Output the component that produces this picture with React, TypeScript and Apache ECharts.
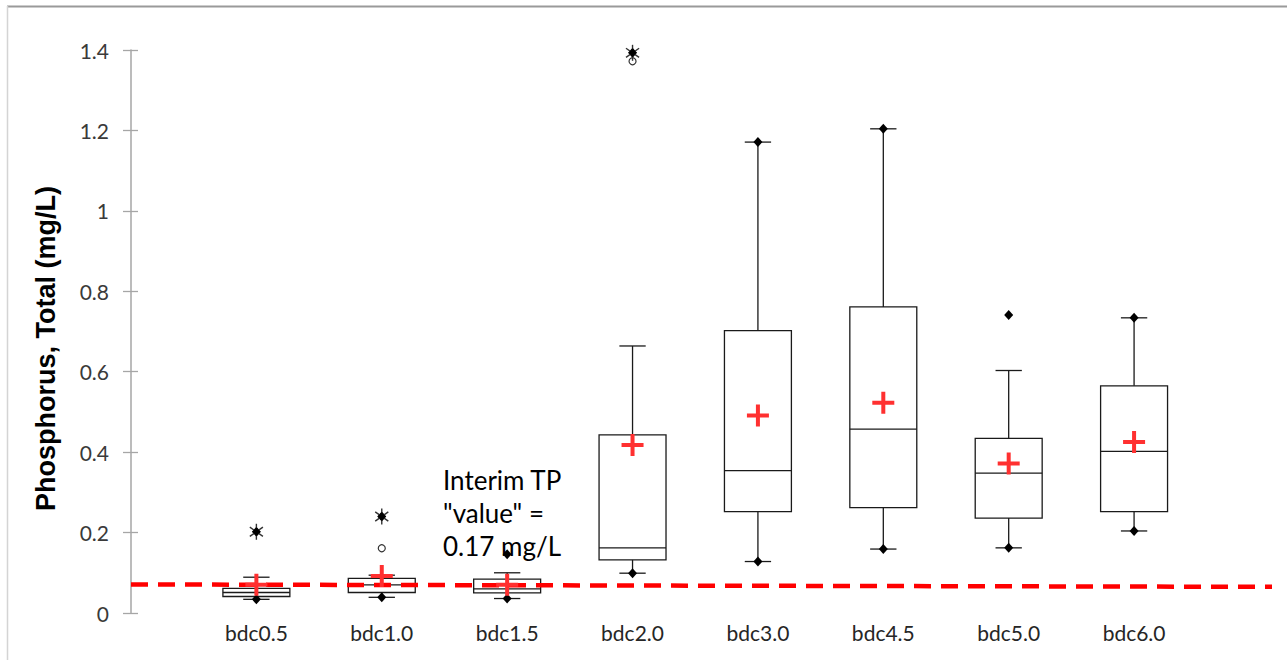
import React, { useEffect, useRef } from "react";
import * as echarts from "echarts";

// ---- data ----
const categories = ["bdc0.5", "bdc1.0", "bdc1.5", "bdc2.0", "bdc3.0", "bdc4.5", "bdc5.0", "bdc6.0"];
const whiskerLow = [0.034, 0.039, 0.036, 0.099, 0.128, 0.159, 0.162, 0.204];
const q1 = [0.041, 0.051, 0.050, 0.132, 0.252, 0.262, 0.236, 0.252];
const median = [0.051, 0.070, 0.060, 0.162, 0.354, 0.457, 0.348, 0.402];
const q3 = [0.061, 0.086, 0.084, 0.443, 0.702, 0.761, 0.434, 0.565];
const whiskerHigh = [0.089, 0.094, 0.100, 0.664, 1.171, 1.204, 0.603, 0.734];
const mean = [0.070, 0.092, 0.070, 0.418, 0.491, 0.523, 0.372, 0.425];
const minimum = [0.034, 0.039, 0.036, 0.099, 0.128, 0.159, 0.162, 0.204];
const maximum = [0.202, 0.240, 0.146, 1.393, 1.171, 1.204, 0.741, 0.734];
const extremeCats = ["bdc0.5", "bdc1.0", "bdc2.0"];
const extremeVals = [0.202, 0.240, 1.393];
const outlierCats = ["bdc1.0", "bdc2.0"];
const outlierVals = [0.161, 1.372];
const thresholdX = [0, 9.1];
const thresholdY = [0.071, 0.065];
const yTicks = { min: 0, max: 1.4, interval: 0.2 };
const annotation = 'Interim TP\n"value" =\n0.17 mg/L';
const yTitle = "Phosphorus, Total (mg/L)";

const pos = (c: string) => categories.indexOf(c) + 1;

const PLUS = "path://M9,0 H13 V9 H22 V13 H13 V22 H9 V13 H0 V9 H9 Z";

export default function App() {
  const ref = useRef<HTMLDivElement>(null);
  useEffect(() => {
    if (!ref.current) return;
    const chart = echarts.init(ref.current, undefined, { renderer: "svg" });

    const boxData = categories.map((c, i) => [i + 1, whiskerLow[i], q1[i], median[i], q3[i], whiskerHigh[i]]);

    const renderBox = (params: any, api: any) => {
      const x = api.value(0);
      const pLow = api.coord([x, api.value(1)]);
      const pQ1 = api.coord([x, api.value(2)]);
      const pMed = api.coord([x, api.value(3)]);
      const pQ3 = api.coord([x, api.value(4)]);
      const pHigh = api.coord([x, api.value(5)]);
      const unit = api.size([1, 0])[0];
      const half = unit * 0.267;
      const cap = unit * 0.105;
      const cx = pQ1[0];
      const st = { stroke: "#1a1a1a", lineWidth: 1.3, fill: "none" };
      return {
        type: "group",
        children: [
          { type: "line", shape: { x1: cx, y1: pHigh[1], x2: cx, y2: pQ3[1] }, style: st },
          { type: "line", shape: { x1: cx, y1: pQ1[1], x2: cx, y2: pLow[1] }, style: st },
          { type: "line", shape: { x1: cx - cap, y1: pHigh[1], x2: cx + cap, y2: pHigh[1] }, style: st },
          { type: "line", shape: { x1: cx - cap, y1: pLow[1], x2: cx + cap, y2: pLow[1] }, style: st },
          { type: "rect", shape: { x: cx - half, y: pQ3[1], width: 2 * half, height: pQ1[1] - pQ3[1] }, style: st },
          { type: "line", shape: { x1: cx - half, y1: pMed[1], x2: cx + half, y2: pMed[1] }, style: st },
        ],
      };
    };

    const renderStar = (params: any, api: any) => {
      const p = api.coord([api.value(0), api.value(1)]);
      const r = 8;
      const st = { stroke: "#333", lineWidth: 1.4 };
      const arms = [90, 35, 145].map((deg) => {
        const a = (deg * Math.PI) / 180;
        const dx = Math.cos(a) * r;
        const dy = Math.sin(a) * r;
        return { type: "line", shape: { x1: p[0] - dx, y1: p[1] - dy, x2: p[0] + dx, y2: p[1] + dy }, style: st };
      });
      return {
        type: "group",
        children: [
          ...arms,
          { type: "polygon", shape: { points: [[p[0], p[1] - 4.5], [p[0] + 4, p[1]], [p[0], p[1] + 4.5], [p[0] - 4, p[1]]] }, style: { fill: "#000" } },
        ],
      };
    };

    const option: any = {
      animation: false,
      backgroundColor: "#fff",
      grid: { left: 131, right: 15, top: 50, bottom: 47, containLabel: false },
      xAxis: {
        type: "value",
        min: 0,
        max: 9.1,
        interval: 1,
        axisLine: { show: false },
        axisTick: { show: false },
        splitLine: { show: false },
        axisLabel: {
          margin: 9,
          fontFamily: "Lato",
          fontSize: 21,
          color: "#262626",
          formatter: (v: number) => (Number.isInteger(v) && v >= 1 && v <= categories.length ? categories[v - 1] : ""),
        },
      },
      yAxis: [
        {
          type: "value",
          min: yTicks.min,
          max: yTicks.max,
          interval: yTicks.interval,
          axisLine: { show: true, lineStyle: { color: "#a6a6a6", width: 1.5 } },
          axisTick: { show: true, length: 8, lineStyle: { color: "#a6a6a6", width: 1.3 } },
          splitLine: { show: false },
          axisLabel: { margin: 22, fontFamily: "Lato", fontSize: 21, color: "#3a3a3a" },
          name: yTitle,
          nameLocation: "middle",
          nameGap: 72,
          nameRotate: 90,
          nameTextStyle: {
            fontFamily: "Liberation Sans",
            fontWeight: "bold",
            fontSize: 27,
            color: "#000",
            padding: [0, 34, 0, 0],
          },
        },
        {
          type: "value",
          position: "left",
          min: yTicks.min,
          max: yTicks.max,
          interval: yTicks.interval,
          axisLine: { show: false },
          axisTick: { show: true, inside: true, length: 7, lineStyle: { color: "#a6a6a6", width: 1.3 } },
          axisLabel: { show: false },
          splitLine: { show: false },
        },
      ],
      series: [
        {
          name: "Box",
          type: "custom",
          renderItem: renderBox,
          encode: { x: 0, y: [1, 2, 3, 4, 5] },
          data: boxData,
          z: 2,
          silent: true,
        },
        {
          name: "Interim TP value",
          type: "line",
          data: thresholdX.map((x, i) => [x, thresholdY[i]]),
          symbol: "none",
          lineStyle: { color: "#ff0000", width: 4.5, type: [17, 10] },
          z: 3,
          silent: true,
        },
        {
          name: "Minimum",
          type: "scatter",
          data: minimum.map((v, i) => [i + 1, v]),
          symbol: "diamond",
          symbolSize: [9, 10],
          itemStyle: { color: "#000", opacity: 1 },
          z: 4,
        },
        {
          name: "Maximum",
          type: "scatter",
          data: maximum.map((v, i) => [i + 1, v]),
          symbol: "diamond",
          symbolSize: [9, 10],
          itemStyle: { color: "#000", opacity: 1 },
          z: 4,
        },
        {
          name: "Outliers",
          type: "scatter",
          data: outlierCats.map((c, i) => [pos(c), outlierVals[i]]),
          symbol: "circle",
          symbolSize: 7,
          itemStyle: { color: "#fff", borderColor: "#333", borderWidth: 1.2, opacity: 1 },
          z: 4,
        },
        {
          name: "Extreme",
          type: "custom",
          renderItem: renderStar,
          encode: { x: 0, y: 1 },
          data: extremeCats.map((c, i) => [pos(c), extremeVals[i]]),
          z: 5,
          silent: true,
        },
        {
          name: "Mean",
          type: "scatter",
          data: mean.map((v, i) => [i + 1, v]),
          symbol: PLUS,
          symbolSize: 22,
          itemStyle: { color: "#ff3030", opacity: 1 },
          z: 6,
        },
      ],
      graphic: [
        { type: "line", shape: { x1: 7, y1: 6.5, x2: 1287, y2: 6.5 }, style: { stroke: "#9a9a9a", lineWidth: 2 }, silent: true },
        { type: "line", shape: { x1: 7.5, y1: 6, x2: 7.5, y2: 660 }, style: { stroke: "#d4d4d4", lineWidth: 1.5 }, silent: true },
        {
          type: "text",
          left: 443,
          top: 463,
          z: 10,
          style: { text: annotation, fontFamily: "Lato", fontSize: 26, lineHeight: 33, fill: "#000" },
        },
      ],
    };

    chart.setOption(option);
    return () => chart.dispose();
  }, []);

  return (
    <div
      ref={ref}
      style={{ position: "fixed", left: 0, top: 0, width: 1287, height: 660, background: "#fff" }}
    />
  );
}
